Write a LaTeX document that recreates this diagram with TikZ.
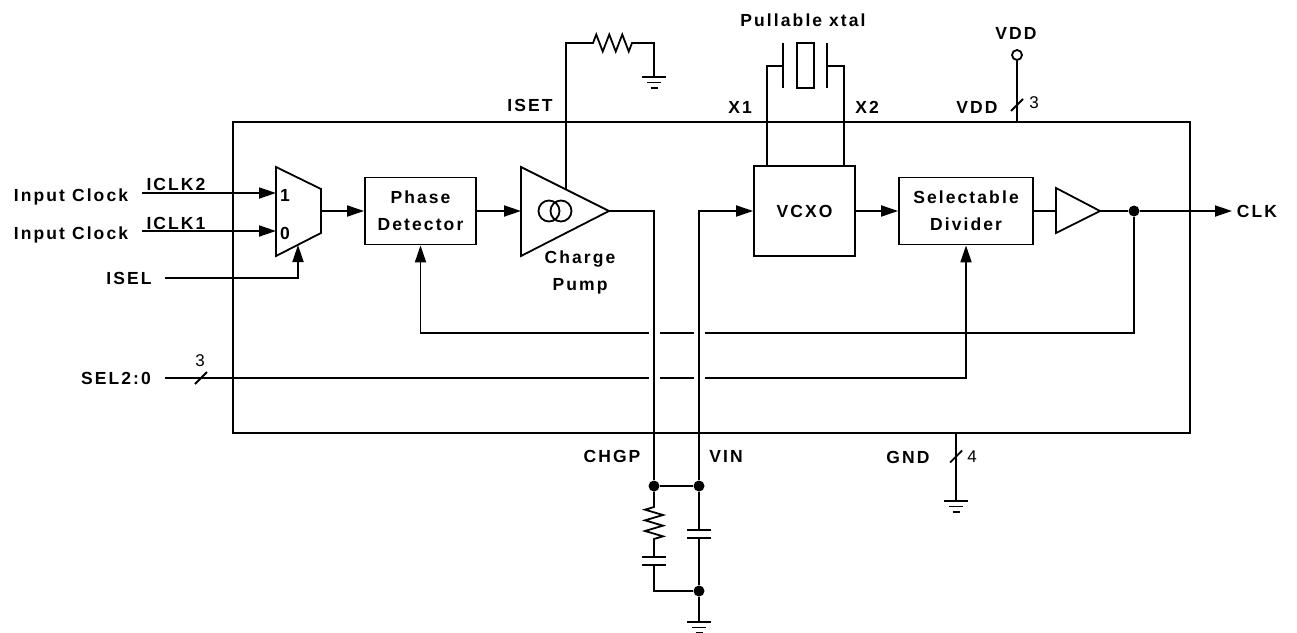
\documentclass[tikz,border=0pt]{standalone}
\usepackage{fontspec}
\setmainfont{Liberation Sans}[LetterSpace=12]
\newfontfamily\pinfont{Liberation Sans}
\usetikzlibrary{arrows.meta}

\newcommand{\lblfont}{\fontsize{17.5}{27}\selectfont\bfseries}

\tikzset{
  wire/.style={line width=1.8pt},
  sig/.style={wire, -{Triangle[length=17pt,width=11pt]}},
  blk/.style={draw, wire, fill=white, inner sep=0pt, align=center, font=\lblfont},
  lbl/.style={inner sep=0pt, text depth=0pt, font=\lblfont},
  num/.style={inner sep=0pt, font=\fontsize{17}{20}\selectfont\pinfont},
  dot/.style={circle, fill, inner sep=0pt, minimum size=11pt},
  gnd/.pic={\draw[wire] (-12,0) -- (12,0) (-7,5.5) -- (7,5.5) (-3.5,11) -- (3.5,11);},
  buswidth/.pic={\draw[wire] (-6,6) -- (6,-6);}
}

\begin{document}
\begin{tikzpicture}[x=1pt,y=-1pt]
\useasboundingbox (0,0) rectangle (1297,632);

% Chip outline
\draw[wire, line width=2pt] (233,122) rectangle (1190,433);

% Input mux
\coordinate (mux1) at (276,193);
\coordinate (mux0) at (276,231);
\coordinate (muxsel) at (298,245);
\coordinate (muxout) at (321,211);
\draw[wire] (276,167) -- (321,189) -- (321,233) -- (276,256) -- cycle;
\node[lbl] (m1) at (285,195) {1};
\node[lbl] (m0) at (285,233) {0};

\node[lbl] (in2) at (71,195) {Input Clock};
\node[lbl] (in1) at (71,233) {Input Clock};
\node[lbl] (iclk2) at (176,184) {ICLK2};
\node[lbl] (iclk1) at (176,223) {ICLK1};
\coordinate (in2w) at (142,193);
\coordinate (in1w) at (142,231);
\draw[sig] (in2w) -- (mux1);
\draw[sig] (in1w) -- (mux0);

\node[lbl] (isel) at (129,278) {ISEL};
\coordinate (iselw) at (165,278);
\draw[sig] (iselw) -| (muxsel);

% Phase detector and charge pump
\node[blk, minimum width=111pt, minimum height=67pt] (pd) at (420.5,211) {Phase\\Detector};
\draw[sig] (muxout) -- (pd.west);

\coordinate (cpin) at (521,211);
\coordinate (cpout) at (609,211);
\coordinate (cpset) at (566,189.5);
\draw[wire] (521,167) -- (cpout) -- (521,256) -- cycle;
\draw[wire] (549,211) circle (10.5pt) (561,211) circle (10.5pt);
\draw[sig] (pd.east) -- (cpin);
\node[lbl, text depth=, align=center] (cplbl) at (580,272) {Charge\\Pump};

% ISET resistor
\coordinate (rset) at (566,43);
\coordinate (rsetgnd) at (654,77);
\draw[wire] (cpset) -- (rset) -- (593,43) -- ++(3.25,-8.5) -- ++(6.5,17) -- ++(6.5,-17)
  -- ++(6.5,17) -- ++(6.5,-17) -- ++(6.5,17) -- ++(3.25,-8.5) -| (rsetgnd);
\pic at (rsetgnd) {gnd};
\node[lbl] (iset) at (530,105) {ISET};

% VCXO and crystal
\node[blk, minimum width=101pt, minimum height=90pt] (vcxo) at (804.5,211) {VCXO};
\node[draw, wire, inner sep=0pt, minimum width=17pt, minimum height=45pt] (xtal) at (805.5,65.5) {};
\coordinate (x1) at (767,166);
\coordinate (x2) at (844,166);
\draw[wire] (783,43) -- (783,88) (827,43) -- (827,88);
\draw[wire] (x1) |- (783,66);
\draw[wire] (x2) |- (827,66);
\node[lbl] (xtallbl) at (803,20) {Pullable xtal};
\node[lbl] (x1lbl) at (740,107) {X1};
\node[lbl] (x2lbl) at (867,107) {X2};

% Divider and output buffer
\node[blk, minimum width=134pt, minimum height=67pt] (div) at (966,211) {Selectable\\Divider};
\draw[sig] (vcxo.east) -- (div.west);
\coordinate (bufin) at (1056,211);
\coordinate (bufout) at (1100,211);
\draw[wire] (1056,188) -- (bufout) -- (1056,233) -- cycle;
\draw[wire] (div.east) -- (bufin);
\node[dot] (tap) at (1134,211) {};
\draw[wire] (bufout) -- (tap);
\node[lbl] (clk) at (1257,211) {CLK};
\coordinate (clkend) at (1232,211);
\draw[sig] (tap) -- (clkend);

% Feedback and select lines
\coordinate (fbrow) at (0,333);
\draw[sig] (tap) |- (pd.south |- fbrow) -- (pd.south);
\node[lbl] (sel) at (116,378) {SEL2:0};
\coordinate (selw) at (165,378);
\draw[sig] (selw) -| (div.south);
\pic at (201,378) {buswidth};
\node[num] (sel3) at (200,361) {3};

% Gaps where loop filter lines cross
\foreach \x in {654,699}
  \foreach \y in {333,378}
    \fill[white] (\x-5.5,\y-2) rectangle (\x+5.5,\y+2);

% Loop filter
\node[dot] (chgp) at (654,486) {};
\node[dot] (vin) at (699,486) {};
\node[dot] (flt) at (699,591) {};
\draw[wire] (cpout) -| (chgp);
\draw[sig] (vin) |- (vcxo.west);
\draw[wire] (chgp) -- (vin);
\draw[wire] (chgp) -- (654,507) -- ++(-9,2.67) -- ++(18,5.33) -- ++(-18,5.33) -- ++(18,5.33)
  -- ++(-18,5.33) -- ++(18,5.33) -- ++(-9,2.67) -- (654,557);
\draw[wire] (642,557) -- (666,557) (642,565) -- (666,565);
\draw[wire] (654,565) |- (flt);
\draw[wire] (vin) -- (699,530) (699,538) -- (flt);
\draw[wire] (687,530) -- (711,530) (687,538) -- (711,538);
\draw[wire] (flt) -- (699,622);
\pic at (699,622) {gnd};
\node[lbl] (chgplbl) at (612,456) {CHGP};
\node[lbl] (vinlbl) at (726,456) {VIN};

% Supply pins
\coordinate (gndpin) at (956,433);
\draw[wire] (gndpin) -- (956,501);
\pic at (956,501) {gnd};
\pic at (956,456.5) {buswidth};
\node[lbl] (gndlbl) at (908,457) {GND};
\node[num] (gnd4) at (972,457) {4};

\node[circle, draw, wire, inner sep=0pt, minimum size=10pt] (vdd) at (1017,55) {};
\draw[wire] (vdd) -- (1017,122);
\pic at (1017,105) {buswidth};
\node[num] (vdd3) at (1034,103) {3};
\node[lbl] (vddtop) at (1016,33) {VDD};
\node[lbl] (vddlbl) at (977,107) {VDD};

\end{tikzpicture}
\end{document}
